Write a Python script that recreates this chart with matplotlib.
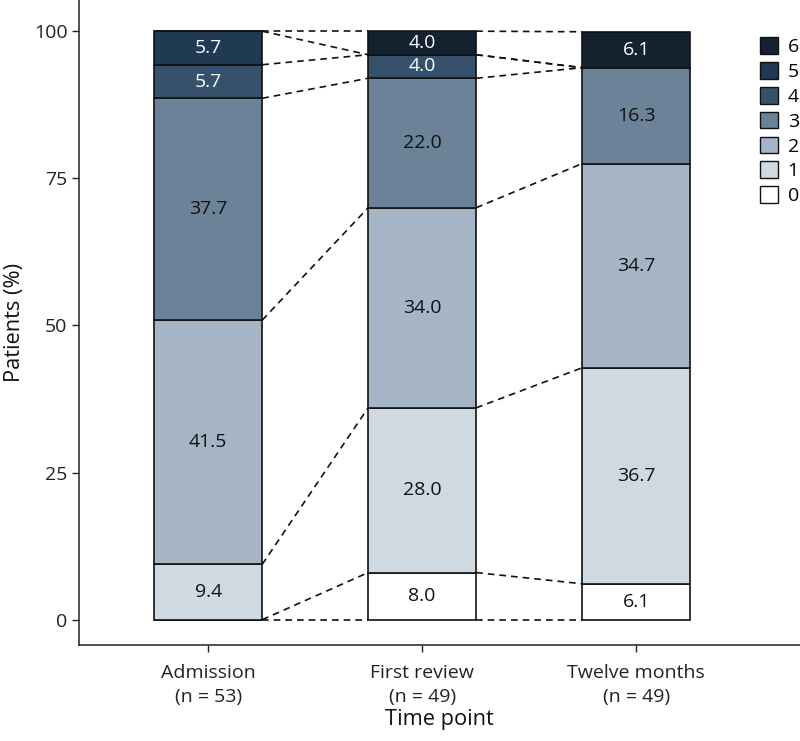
import matplotlib
matplotlib.use("Agg")
import matplotlib.pyplot as plt
import numpy as np
from matplotlib.patches import Patch

plt.rcParams['font.family'] = ['Open Sans', 'DejaVu Sans']

time_points = ["Admission\n(n = 53)", "First review\n(n = 49)", "Twelve months\n(n = 49)"]
categories = ["0", "1", "2", "3", "4", "5", "6"]
# values per category (rows) for each time point (columns)
cat0 = [0.0, 8.0, 6.1]
cat1 = [9.4, 28.0, 36.7]
cat2 = [41.5, 34.0, 34.7]
cat3 = [37.7, 22.0, 16.3]
cat4 = [5.7, 4.0, 0.0]
cat5 = [5.7, 0.0, 0.0]
cat6 = [0.0, 4.0, 6.1]

colors = ["#ffffff", "#cfd9e2", "#a6b5c6", "#6b8299", "#35516b", "#1f3a52", "#14222f"]
text_colors = ["#111111", "#111111", "#111111", "#111111", "#ffffff", "#ffffff", "#ffffff"]

data = np.array([cat0, cat1, cat2, cat3, cat4, cat5, cat6])

fig = plt.figure(figsize=(8.0, 7.41), dpi=100)
ax = fig.add_axes([0.099, 0.13, 0.901, 0.87])

x = np.arange(len(time_points))
width = 0.505
bottom = np.zeros(len(time_points))
tops = [bottom.copy()]
for i, cat in enumerate(categories):
    vals = data[i]
    ax.bar(x, vals, width, bottom=bottom, color=colors[i], edgecolor="#111111",
           linewidth=1.2, zorder=3)
    for j in range(len(x)):
        if vals[j] > 0:
            ax.text(x[j], bottom[j] + vals[j] / 2, f"{vals[j]:.1f}", ha="center", va="center",
                    fontsize=14, color=text_colors[i], zorder=4)
    bottom = bottom + vals
    tops.append(bottom.copy())

# dashed connectors between adjacent bars
for level in tops:
    for j in range(len(x) - 1):
        ax.plot([x[j] + width / 2, x[j + 1] - width / 2], [level[j], level[j + 1]],
                linestyle=(0, (4, 3)), color="#111111", linewidth=1.2, zorder=2)

ax.set_xlim(-0.603, 2.766)
ax.set_ylim(-4.25, 105.3)
ax.set_yticks([0, 25, 50, 75, 100])
ax.set_xticks(x)
ax.set_xticklabels(time_points, linespacing=1.45)
ax.tick_params(axis="both", labelsize=14, colors="#222222", length=5, width=1)
ax.tick_params(axis="x", pad=9)
ax.tick_params(axis="both", labelcolor="#222222")
for s in ["top", "right"]:
    ax.spines[s].set_visible(False)
for s in ["left", "bottom"]:
    ax.spines[s].set_linewidth(1.1)
    ax.spines[s].set_color("#222222")
ax.set_ylabel("Patients (%)", fontsize=15.7, color="#111111", labelpad=6)
ax.set_xlabel("Time point", fontsize=15.7, color="#111111", labelpad=2)

handles = [Patch(facecolor=colors[i], edgecolor="#111111", linewidth=1.0, label=categories[i])
           for i in range(len(categories) - 1, -1, -1)]
leg = ax.legend(handles=handles, loc="upper left", bbox_to_anchor=(0.940, 0.960),
                bbox_transform=fig.transFigure, frameon=False,
                fontsize=14, handlelength=0.93, handleheight=0.93, handletextpad=0.5,
                labelspacing=0.3, borderaxespad=0)

fig.savefig("out.png", dpi=100)
